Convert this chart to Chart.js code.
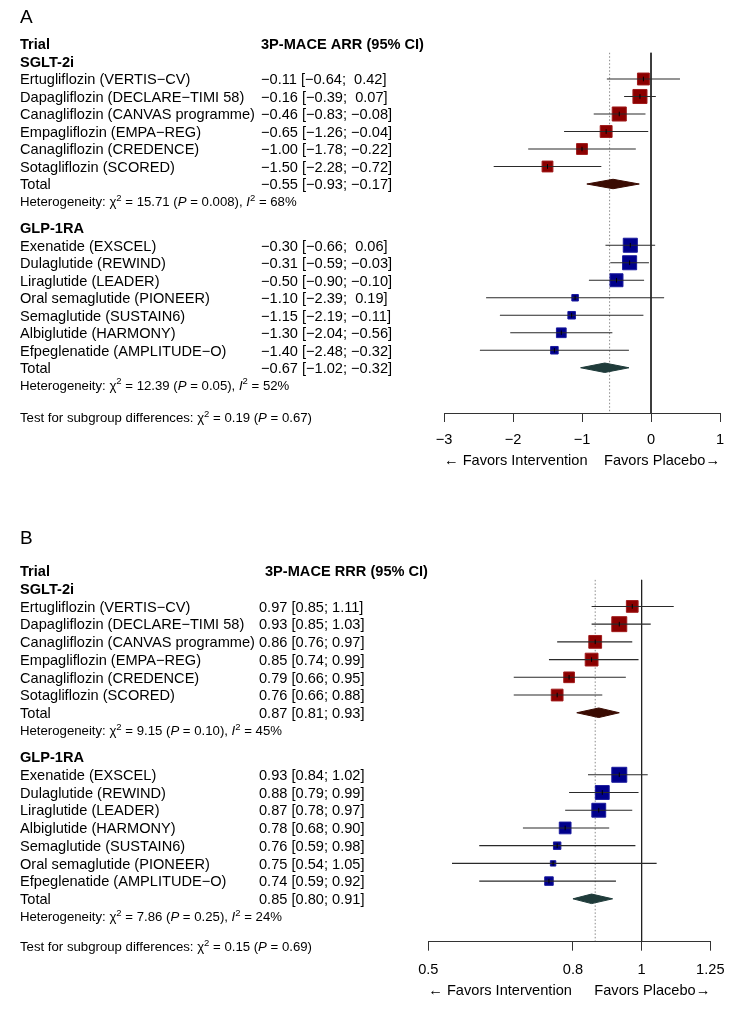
<!DOCTYPE html>
<html>
<head>
<meta charset="utf-8">
<script src="https://cdn.jsdelivr.net/npm/chart.js@4.4.1/dist/chart.umd.min.js"></script>
<style>
  html, body { margin: 0; padding: 0; background: #fff; }
  canvas { display: block; }
</style>
</head>
<body>
<canvas id="chartA" width="744" height="490"></canvas>
<canvas id="chartB" width="744" height="521"></canvas>
<script>
// ---- data: panel A, 3P-MACE absolute risk reduction ----
const sgltTrialsA = ['Ertugliflozin (VERTIS−CV)', 'Dapagliflozin (DECLARE−TIMI 58)', 'Canagliflozin (CANVAS programme)',
  'Empagliflozin (EMPA−REG)', 'Canagliflozin (CREDENCE)', 'Sotagliflozin (SCORED)'];
const sgltArr   = [-0.11, -0.16, -0.46, -0.65, -1.00, -1.50];
const sgltArrLo = [-0.64, -0.39, -0.83, -1.26, -1.78, -2.28];
const sgltArrHi = [0.42, 0.07, -0.08, -0.04, -0.22, -0.72];
const sgltArrW  = [8.2, 11.2, 11.2, 8.2, 6.9, 6.9];
const sgltArrTotal = [-0.55, -0.93, -0.17];
const sgltArrHet = ['15.71', '0.008', '68'];

const glpTrialsA = ['Exenatide (EXSCEL)', 'Dulaglutide (REWIND)', 'Liraglutide (LEADER)', 'Oral semaglutide (PIONEER)',
  'Semaglutide (SUSTAIN6)', 'Albiglutide (HARMONY)', 'Efpeglenatide (AMPLITUDE−O)'];
const glpArr   = [-0.30, -0.31, -0.50, -1.10, -1.15, -1.30, -1.40];
const glpArrLo = [-0.66, -0.59, -0.90, -2.39, -2.19, -2.04, -2.48];
const glpArrHi = [0.06, -0.03, -0.10, 0.19, -0.11, -0.56, -0.32];
const glpArrW  = [11.2, 11.2, 9.6, 2.8, 3.6, 5.7, 3.6];
const glpArrTotal = [-0.67, -1.02, -0.32];
const glpArrHet = ['12.39', '0.05', '52'];

const overallArr = -0.6;
const testArr = ['0.19', '0.67'];
const ticksArr = [-3, -2, -1, 0, 1];

// ---- data: panel B, 3P-MACE relative risk ----
const sgltTrialsB = sgltTrialsA;
const sgltRrr   = [0.97, 0.93, 0.86, 0.85, 0.79, 0.76];
const sgltRrrLo = [0.85, 0.85, 0.76, 0.74, 0.66, 0.66];
const sgltRrrHi = [1.11, 1.03, 0.97, 0.99, 0.95, 0.88];
const sgltRrrW  = [7.5, 11.8, 8.8, 8.8, 6.3, 7.5];
const sgltRrrTotal = [0.87, 0.81, 0.93];
const sgltRrrHet = ['9.15', '0.10', '45'];

const glpTrialsB = ['Exenatide (EXSCEL)', 'Dulaglutide (REWIND)', 'Liraglutide (LEADER)', 'Albiglutide (HARMONY)',
  'Semaglutide (SUSTAIN6)', 'Oral semaglutide (PIONEER)', 'Efpeglenatide (AMPLITUDE−O)'];
const glpRrr   = [0.93, 0.88, 0.87, 0.78, 0.76, 0.75, 0.74];
const glpRrrLo = [0.84, 0.79, 0.78, 0.68, 0.59, 0.54, 0.59];
const glpRrrHi = [1.02, 0.99, 0.97, 0.90, 0.98, 1.05, 0.92];
const glpRrrW  = [11.8, 10.2, 10.2, 7.5, 3.3, 1.9, 4.2];
const glpRrrTotal = [0.85, 0.80, 0.91];
const glpRrrHet = ['7.86', '0.25', '24'];

const overallRrr = 0.86;
const testRrr = ['0.15', '0.69'];
const ticksRrr = [0.5, 0.8, 1, 1.25];

// ---- drawing ----
const FONT = '"Liberation Sans", Arial, Helvetica, sans-serif';
const FS = 14.6, FS_SMALL = 13.2;
Chart.defaults.font.family = FONT;

function num(v, pad) {
  const s = Math.abs(v).toFixed(2);
  return v < 0 ? '−' + s : (pad ? ' ' + s : s);
}
function ciText(est, lo, hi, pad) {
  return num(est, pad) + ' [' + num(lo, pad) + '; ' + num(hi, pad) + ']';
}
function richText(ctx, x, y, parts, size) {
  for (const p of parts) {
    const s = p.sup ? size * 0.72 : size;
    ctx.font = (p.it ? 'italic ' : '') + s + 'px ' + FONT;
    ctx.fillText(p.t, x, p.sup ? y - size * 0.42 : y);
    x += ctx.measureText(p.t).width;
  }
}
function hetParts(h) {
  return [{t: 'Heterogeneity: χ'}, {t: '2', sup: true}, {t: ' = ' + h[0] + ' ('}, {t: 'P', it: true},
    {t: ' = ' + h[1] + '), '}, {t: 'I', it: true}, {t: '2', sup: true}, {t: ' = ' + h[2] + '%'}];
}
function testParts(t) {
  return [{t: 'Test for subgroup differences: χ'}, {t: '2', sup: true}, {t: ' = ' + t[0] + ' ('},
    {t: 'P', it: true}, {t: ' = ' + t[1] + ')'}];
}

function makePanel(p) {
  const canvas = document.getElementById(p.id);
  const H = canvas.height;
  const yMax = (p.axisY - p.row0) / p.rowH;

  // row layout: header 0, group label, trials, total, heterogeneity, gap
  let r = 1;
  for (const g of p.groups) {
    g.labelRow = r;
    g.rows = g.trials.map((_, i) => r + 1 + i);
    g.totalRow = r + 1 + g.trials.length;
    g.hetRow = g.totalRow + 1;
    r = g.hetRow + 1.5;
  }

  const tickPts = [], ciPts = [];
  p.groups.forEach(g => g.est.forEach((v, i) => {
    tickPts.push({x: v, y: g.rows[i]});
    ciPts.push({x: g.lo[i], y: g.rows[i]}, {x: g.hi[i], y: g.rows[i]}, {x: null, y: null});
  }));

  const datasets = [
    {data: tickPts, pointStyle: 'line', rotation: 90, pointRadius: 2.3, borderColor: '#000', borderWidth: 1},
    {data: ciPts, showLine: true, spanGaps: false, pointRadius: 0, borderColor: '#2a2a2a', borderWidth: 1.1}
  ];
  p.groups.forEach(g => datasets.push({
    data: g.est.map((v, i) => ({x: v, y: g.rows[i]})),
    pointStyle: 'rect',
    pointRadius: c => (p.k * Math.sqrt(g.w[c.dataIndex]) - 1) / Math.SQRT2,
    backgroundColor: g.color, borderColor: g.edge, borderWidth: 1
  }));
  p.groups.forEach(g => {
    const [est, lo, hi] = g.total, y = g.totalRow, h = 0.27;
    datasets.push({
      data: [{x: lo, y}, {x: est, y: y - h}, {x: hi, y}, {x: est, y: y + h}, {x: lo, y}],
      showLine: true, fill: 'shape', pointRadius: 0, tension: 0,
      backgroundColor: g.diamond, borderColor: g.diamond, borderWidth: 1
    });
  });
  datasets.push({data: [{x: p.overall, y: 0.5}, {x: p.overall, y: yMax}], showLine: true, pointRadius: 0,
    borderColor: '#8a8a8a', borderWidth: 1, borderDash: [1.5, 2]});
  datasets.push({data: [{x: p.nullValue, y: 0.5}, {x: p.nullValue, y: yMax}], showLine: true, pointRadius: 0,
    borderColor: '#222', borderWidth: 1});

  const textPlugin = {
    id: 'forestText',
    afterDraw(chart) {
      const ctx = chart.ctx, ys = chart.scales.y;
      const base = (row, size) => ys.getPixelForValue(row) + 0.36 * size;
      ctx.save();
      ctx.fillStyle = '#000';
      ctx.textBaseline = 'alphabetic';
      ctx.textAlign = 'left';
      ctx.font = '19px ' + FONT;
      ctx.fillText(p.letter, 20, p.letterY);
      ctx.font = 'bold ' + FS + 'px ' + FONT;
      ctx.fillText('Trial', 20, base(0, FS));
      ctx.fillText(p.header, p.headX, base(0, FS));
      for (const g of p.groups) {
        ctx.font = 'bold ' + FS + 'px ' + FONT;
        ctx.fillText(g.name, 20, base(g.labelRow, FS));
        ctx.font = FS + 'px ' + FONT;
        g.trials.forEach((t, i) => {
          ctx.fillText(t, 20, base(g.rows[i], FS));
          ctx.fillText(ciText(g.est[i], g.lo[i], g.hi[i], p.pad), p.estX, base(g.rows[i], FS));
        });
        ctx.fillText('Total', 20, base(g.totalRow, FS));
        ctx.fillText(ciText(g.total[0], g.total[1], g.total[2], p.pad), p.estX, base(g.totalRow, FS));
        richText(ctx, 20, base(g.hetRow, FS_SMALL), hetParts(g.het), FS_SMALL);
      }
      richText(ctx, 20, base(p.testRow, FS_SMALL), testParts(p.test), FS_SMALL);
      const a = chart.chartArea;
      ctx.font = FS + 'px ' + FONT;
      ctx.fillText('← Favors Intervention', a.left, p.axisY + p.favorsDy);
      ctx.textAlign = 'right';
      ctx.fillText('Favors Placebo→', a.right, p.axisY + p.favorsDy);
      ctx.restore();
    }
  };

  return new Chart(canvas, {
    type: 'scatter',
    data: {datasets},
    options: {
      responsive: false, animation: false, devicePixelRatio: 1, events: [],
      layout: {padding: {left: p.xLeft, right: canvas.width - p.xRight, top: p.row0 - 0.5 * p.rowH, bottom: 0}},
      plugins: {legend: {display: false}, tooltip: {enabled: false}},
      scales: {
        x: {
          type: p.xType, min: p.ticks[0], max: p.ticks[p.ticks.length - 1], position: 'bottom',
          afterFit: s => { s.height = H - p.axisY; },
          afterBuildTicks: s => { s.ticks = p.ticks.map(v => ({value: v})); },
          grid: {drawOnChartArea: false, drawTicks: true, tickLength: p.tickLen, color: '#333', lineWidth: 1},
          border: {display: true, color: '#333', width: 1},
          ticks: {color: '#000', font: {size: FS}, padding: p.tickPad, maxRotation: 0, autoSkip: false,
            callback: v => String(v).replace('-', '−')}
        },
        y: {type: 'linear', display: false, reverse: true, min: -0.5, max: yMax}
      }
    },
    plugins: [textPlugin]
  });
}

makePanel({
  id: 'chartA', letter: 'A', letterY: 23.3, header: '3P-MACE ARR (95% CI)', headX: 261, estX: 261,
  row0: 44, rowH: 17.5, axisY: 413, testRow: 21.35, test: testArr, favorsDy: 51.6,
  xType: 'linear', ticks: ticksArr, xLeft: 444, xRight: 720, tickLen: 9, tickPad: 9,
  nullValue: 0, overall: overallArr, pad: true, k: 4.5,
  groups: [
    {name: 'SGLT-2i', trials: sgltTrialsA, est: sgltArr, lo: sgltArrLo, hi: sgltArrHi, w: sgltArrW,
      total: sgltArrTotal, het: sgltArrHet, color: '#8b0000', edge: '#a01a1a', diamond: '#3a0b02'},
    {name: 'GLP-1RA', trials: glpTrialsA, est: glpArr, lo: glpArrLo, hi: glpArrHi, w: glpArrW,
      total: glpArrTotal, het: glpArrHet, color: '#00008b', edge: '#1a1a9e', diamond: '#1f3b3a'}
  ]
});

makePanel({
  id: 'chartB', letter: 'B', letterY: 53.5, header: '3P-MACE RRR (95% CI)', headX: 265, estX: 259,
  row0: 81, rowH: 17.72, axisY: 451.3, testRow: 21.2, test: testRrr, favorsDy: 53.3,
  xType: 'logarithmic', ticks: ticksRrr, xLeft: 428.3, xRight: 710.3, tickLen: 9.4, tickPad: 10.3,
  nullValue: 1, overall: overallRrr, pad: false, k: 4.65,
  groups: [
    {name: 'SGLT-2i', trials: sgltTrialsB, est: sgltRrr, lo: sgltRrrLo, hi: sgltRrrHi, w: sgltRrrW,
      total: sgltRrrTotal, het: sgltRrrHet, color: '#8b0000', edge: '#a01a1a', diamond: '#3a0b02'},
    {name: 'GLP-1RA', trials: glpTrialsB, est: glpRrr, lo: glpRrrLo, hi: glpRrrHi, w: glpRrrW,
      total: glpRrrTotal, het: glpRrrHet, color: '#00008b', edge: '#1a1a9e', diamond: '#1f3b3a'}
  ]
});
</script>
</body>
</html>
